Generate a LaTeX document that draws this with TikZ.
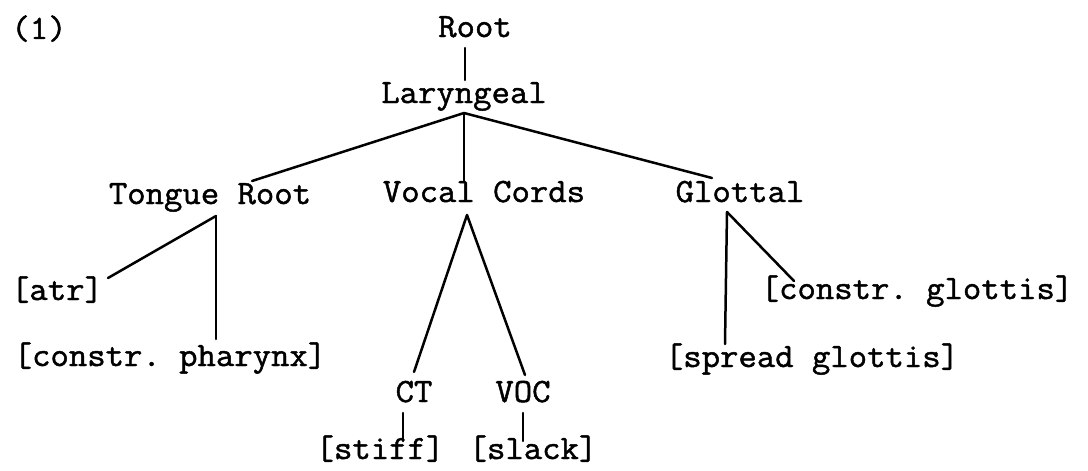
\documentclass[tikz,border=0pt]{standalone}
\usepackage{fontspec}
\setmonofont[FakeStretch=1.05, FakeBold=1.4]{Latin Modern Mono}
\usetikzlibrary{calc}
\tikzset{
  every picture/.style={line width=1.2pt},
  lbl/.style={font=\ttfamily\fontsize{17}{20}\selectfont, anchor=base, inner sep=0pt, outer sep=0pt, text height=10pt, text depth=0pt},
  branch/.style={draw=black, line width=1.25pt, line cap=round},
}
\begin{document}
\begin{tikzpicture}[x=0.5pt, y=-0.5pt]
  \useasboundingbox (0,0) rectangle (1088,471);

  % nodes, placed at their baselines (pixel grid of the scan)
  \node[lbl] (one)   at (39,39)   {(1)};
  \node[lbl] (root)  at (475,37)  {Root};
  \node[lbl] (lar)   at (464,103) {Laryngeal};
  \node[lbl] (tr)    at (210,204) {Tongue Root};
  \node[lbl] (vc)    at (484,202) {Vocal Cords};
  \node[lbl] (gl)    at (740,202) {Glottal};
  \node[lbl] (atr)   at (57,300)  {[atr]};
  \node[lbl] (cph)   at (170,366) {[constr. pharynx]};
  \node[lbl] (cgl)   at (917,299) {[constr. glottis]};
  \node[lbl] (sgl)   at (812,367) {[spread glottis]};
  \node[lbl] (ct)    at (414,402) {CT};
  \node[lbl] (voc)   at (523,402) {VOC};
  \node[lbl] (stiff) at (380,459) {[stiff]};
  \node[lbl] (slack) at (533,459) {[slack]};

  % branching points
  \coordinate (lar-a) at ($(lar.south)+(0,10)$);
  \coordinate (tr-a)  at ($(tr.south)+(6,12)$);
  \coordinate (vc-a)  at ($(vc.south)+(-17,13)$);
  \coordinate (gl-a)  at ($(gl.south)+(-13,10)$);

  \draw[branch] ($(root.south)+(-10,11)$) -- ($(lar.north)+(1,-3)$);
  \draw[branch] (lar-a) -- ($(tr.north)+(42,-3)$);
  \draw[branch] (lar-a) -- ($(vc.north)+(-20,0)$);
  \draw[branch] (lar-a) -- ($(gl.north)+(-28,-4)$);

  \draw[branch] (tr-a) -- ($(atr.north)+(51,-2)$);
  \draw[branch] (tr-a) -- ($(cph.north)+(46,-7)$);

  \draw[branch] (vc-a) -- ($(ct.north)+(0,-10)$);
  \draw[branch] (vc-a) -- ($(voc.north)+(2,-7)$);
  \draw[branch] ($(ct.south)+(-11,11)$) -- ($(stiff.north)+(23,2)$);
  \draw[branch] ($(voc.south)+(0,11)$) -- ($(slack.north)+(-10,2)$);

  \draw[branch] (gl-a) -- ($(cgl.north)+(-123,2)$);
  \draw[branch] (gl-a) -- ($(sgl.north)+(-87,-3)$);
\end{tikzpicture}
\end{document}
